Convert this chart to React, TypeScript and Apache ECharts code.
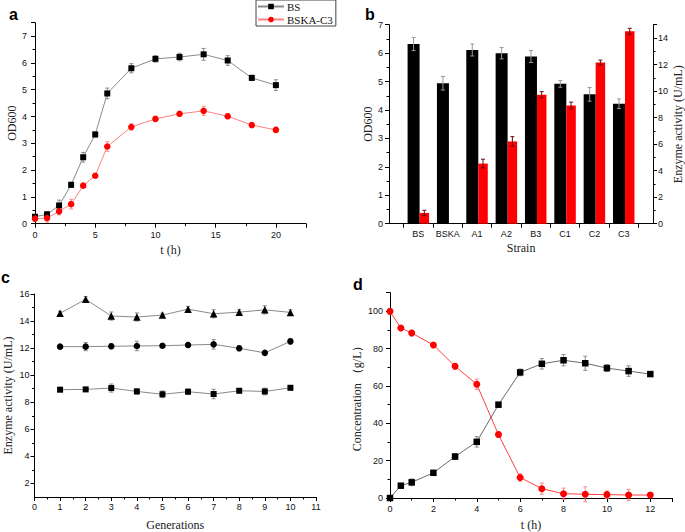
import React, { useEffect, useRef } from "react";
import * as echarts from "echarts";

// ---- Panel a: growth curves ----
const aTime = [0, 1, 2, 3, 4, 5, 6, 8, 10, 12, 14, 16, 18, 20];
const aBS = [0.26, 0.35, 0.68, 1.45, 2.48, 3.33, 4.86, 5.8, 6.15, 6.22, 6.32, 6.09, 5.44, 5.17];
const aBSErr = [0.08, 0.1, 0.2, 0.1, 0.18, 0.1, 0.2, 0.17, 0.12, 0.14, 0.22, 0.18, 0.1, 0.2];
const aC3 = [0.19, 0.21, 0.46, 0.73, 1.42, 1.79, 2.88, 3.61, 3.91, 4.1, 4.21, 4.01, 3.68, 3.5];
const aC3Err = [0.1, 0.15, 0.13, 0.18, 0.07, 0.07, 0.18, 0.12, 0.1, 0.07, 0.17, 0.1, 0.07, 0.1];

// ---- Panel b: strains ----
const bStrains = ["BS", "BSKA", "A1", "A2", "B3", "C1", "C2", "C3"];
const bOD = [6.32, 4.94, 6.11, 6.0, 5.88, 4.92, 4.55, 4.22];
const bODErr = [0.23, 0.24, 0.21, 0.2, 0.21, 0.12, 0.24, 0.17];
const bAct = [0.81, null, 4.53, 6.2, 9.72, 8.91, 12.15, 14.5];
const bActErr = [0.2, null, 0.33, 0.36, 0.23, 0.25, 0.18, 0.23];

// ---- Panel c: stability over generations ----
const cGen = [1, 2, 3, 4, 5, 6, 7, 8, 9, 10];
const cTri = [14.57, 15.61, 14.37, 14.3, 14.44, 14.88, 14.54, 14.66, 14.83, 14.64];
const cTriErr = [0.15, 0.2, 0.3, 0.3, 0.15, 0.2, 0.3, 0.2, 0.3, 0.2];
const cCirc = [12.11, 12.11, 12.14, 12.16, 12.18, 12.23, 12.28, 11.99, 11.65, 12.5];
const cCircErr = [0.15, 0.3, 0.2, 0.35, 0.15, 0.2, 0.35, 0.2, 0.1, 0.2];
const cSq = [8.93, 8.95, 9.05, 8.8, 8.59, 8.78, 8.61, 8.85, 8.8, 9.07];
const cSqErr = [0.15, 0.15, 0.3, 0.2, 0.25, 0.2, 0.35, 0.15, 0.25, 0.15];

// ---- Panel d: fermentation ----
const dTime = [0, 0.5, 1, 2, 3, 4, 5, 6, 7, 8, 9, 10, 11, 12];
const dBlack = [0, 6.6, 8.4, 13.5, 22.2, 30.1, 50, 67.3, 71.9, 73.8, 72.2, 69.6, 68, 66.4];
const dBlackErr = [0, 1, 1.8, 1, 1.5, 2.8, 1.2, 1.8, 2.8, 3, 3.8, 1.8, 2.8, 1];
const dRed = [100, 91.1, 88.4, 82, 70.6, 60.9, 34, 11, 5, 2.3, 2, 1.8, 1.6, 1.6];
const dRedErr = [0, 0.8, 1.5, 1, 1.5, 2.8, 1.5, 2, 3, 3, 4, 2, 3, 1];

const SANS = "Liberation Sans";
const SERIF = "Liberation Serif";

function errData(xs: number[], ys: (number | null)[], es: (number | null)[]) {
  const out: number[][] = [];
  xs.forEach((x, i) => {
    const y = ys[i];
    const e = es[i];
    if (y == null || e == null) return;
    out.push([x, y - e, y + e]);
  });
  return out;
}

function errRender(color: string, offset = 0, capW = 4) {
  return (params: any, api: any) => {
    const x = api.value(0);
    const lo = api.value(1);
    const hi = api.value(2);
    const p1 = api.coord([x, lo]);
    const p2 = api.coord([x, hi]);
    const cx = p1[0] + offset;
    const st = { stroke: color, lineWidth: 1 };
    return {
      type: "group",
      children: [
        { type: "line", shape: { x1: cx, y1: p1[1], x2: cx, y2: p2[1] }, style: st },
        { type: "line", shape: { x1: cx - capW / 2, y1: p2[1], x2: cx + capW / 2, y2: p2[1] }, style: st },
        { type: "line", shape: { x1: cx - capW / 2, y1: p1[1], x2: cx + capW / 2, y2: p1[1] }, style: st },
      ],
    };
  };
}

function axis(extra: any) {
  const base: any = {
    axisLine: { show: true, onZero: false, lineStyle: { color: "#000", width: 1 } },
    axisTick: { show: true, length: 4, lineStyle: { color: "#000", width: 1 } },
    minorTick: { show: true, splitNumber: 2, length: 2.5, lineStyle: { color: "#000", width: 1 } },
    splitLine: { show: false },
    axisLabel: { color: "#111", fontFamily: SANS, fontSize: 9, margin: 6 },
    nameLocation: "middle",
    nameTextStyle: { fontFamily: SERIF, fontSize: 12, color: "#222" },
  };
  const out: any = { ...base, ...extra };
  for (const k of ["axisLine", "axisTick", "minorTick", "axisLabel", "nameTextStyle"]) {
    if (extra[k]) out[k] = { ...base[k], ...extra[k] };
  }
  return out;
}

const zip = (xs: number[], ys: (number | null)[]) =>
  xs.map((x, i) => [x, ys[i]]).filter((p) => p[1] != null);

export default function App() {
  const ref = useRef<HTMLDivElement>(null);
  useEffect(() => {
    if (!ref.current) return;
    const chart = echarts.init(ref.current, undefined, { renderer: "svg" });
    const grayLine = "#8a8a8a";
    const option: any = {
      animation: false,
      backgroundColor: "#fff",
      textStyle: { fontFamily: SANS },
      title: [
        { text: "a", left: 9, top: 6, textStyle: { fontFamily: SANS, fontWeight: "bold", fontSize: 16, color: "#000" }, padding: 0 },
        { text: "b", left: 365, top: 6, textStyle: { fontFamily: SANS, fontWeight: "bold", fontSize: 16, color: "#000" }, padding: 0 },
        { text: "c", left: 1, top: 269, textStyle: { fontFamily: SANS, fontWeight: "bold", fontSize: 16, color: "#000" }, padding: 0 },
        { text: "d", left: 353, top: 276, textStyle: { fontFamily: SANS, fontWeight: "bold", fontSize: 16, color: "#000" }, padding: 0 },
      ],
      legend: {
        data: ["BS", "BSKA-C3"],
        orient: "vertical",
        left: 256,
        top: 0,
        padding: [1, 3, 1, 1],
        itemGap: 2,
        itemWidth: 26,
        itemHeight: 7,
        borderColor: "#444",
        borderWidth: 1,
        textStyle: { fontFamily: SERIF, fontSize: 11, color: "#111", padding: [0, 0, 0, -2] },
      },
      grid: [
        { left: 35, top: 22.7, width: 271, height: 201 },
        { left: 389, top: 24.7, width: 267, height: 199 },
        { left: 34.5, top: 294, width: 281.5, height: 205.3 },
        { left: 390, top: 292.7, width: 282, height: 206.3 },
      ],
      xAxis: [
        axis({
          type: "value", gridIndex: 0, min: 0, max: 22.5, interval: 5,
          name: "t (h)", nameGap: 20,
          axisLabel: { margin: 7, formatter: (v: number) => (v % 5 === 0 ? String(v) : "") },
        }),
        axis({
          type: "value", gridIndex: 1, min: 0, max: 9,
          name: "Strain", nameGap: 18,
          minorTick: { show: false },
          axisTick: { customValues: [0.5, 1.5, 2.5, 3.5, 4.5, 5.5, 6.5, 7.5, 8.5] },
          axisLabel: {
            margin: 6,
            customValues: [1, 2, 3, 4, 5, 6, 7, 8],
            formatter: (v: number) => bStrains[Math.round(v) - 1] || "",
          },
        }),
        axis({
          type: "value", gridIndex: 2, min: 0, max: 11, interval: 1,
          name: "Generations", nameGap: 22, axisLabel: { margin: 5 },
        }),
        axis({
          type: "value", gridIndex: 3, min: 0, max: 13, interval: 2,
          name: "t (h)", nameGap: 21,
          axisLabel: { margin: 6, formatter: (v: number) => (v % 2 === 0 ? String(v) : "") },
        }),
      ],
      yAxis: [
        axis({
          type: "value", gridIndex: 0, min: 0, max: 7.5, interval: 1,
          name: "OD600", nameGap: 16,
          axisLabel: { margin: 8, formatter: (v: number) => (v % 1 === 0 ? String(v) : "") },
        }),
        axis({
          type: "value", gridIndex: 1, min: 0, max: 7, interval: 1,
          name: "OD600", nameGap: 12, axisLabel: { margin: 6 },
        }),
        axis({
          type: "value", gridIndex: 1, min: 0, max: 15, interval: 2, position: "right",
          name: "Enzyme activity (U/mL)", nameGap: 17, nameRotate: 90,
          axisLabel: { margin: 5, formatter: (v: number) => (v % 2 === 0 ? String(v) : "") },
        }),
        axis({
          type: "value", gridIndex: 2, min: 1, max: 16,
          name: "Enzyme activity (U/mL)", nameGap: 21,
          minorTick: { show: false },
          axisTick: { customValues: [2, 4, 6, 8, 10, 12, 14, 16] },
          axisLabel: { margin: 5, customValues: [2, 4, 6, 8, 10, 12, 14, 16] },
        }),
        axis({
          type: "value", gridIndex: 2, min: 1, max: 16, position: "left",
          axisLine: { show: false },
          minorTick: { show: false },
          axisTick: { length: 2.5, customValues: [3, 5, 7, 9, 11, 13, 15] },
          axisLabel: { show: false },
        }),
        axis({
          type: "value", gridIndex: 3, min: 0, max: 110, interval: 20,
          name: "Concentration （g/L）", nameGap: 27,
          axisLabel: { margin: 7, formatter: (v: number) => (v % 20 === 0 ? String(v) : "") },
        }),
      ],
      series: [
        // ---- a ----
        {
          type: "custom", name: "errBS", xAxisIndex: 0, yAxisIndex: 0, z: 1,
          renderItem: errRender("#8a8a8a"), encode: { x: 0, y: [1, 2] },
          data: errData(aTime, aBS, aBSErr),
        },
        {
          type: "custom", name: "errC3", xAxisIndex: 0, yAxisIndex: 0, z: 1,
          renderItem: errRender("#ff8a8a"), encode: { x: 0, y: [1, 2] },
          data: errData(aTime, aC3, aC3Err),
        },
        {
          type: "line", name: "BS", xAxisIndex: 0, yAxisIndex: 0, z: 3,
          data: zip(aTime, aBS), symbol: "rect", symbolSize: 6,
          itemStyle: { color: "#000" }, lineStyle: { color: grayLine, width: 1 },
        },
        {
          type: "line", name: "BSKA-C3", xAxisIndex: 0, yAxisIndex: 0, z: 3,
          data: zip(aTime, aC3), symbol: "circle", symbolSize: 6.5,
          itemStyle: { color: "#ff0000" }, lineStyle: { color: "#ff8080", width: 1 },
        },
        // ---- b ----
        {
          type: "bar", name: "OD", xAxisIndex: 1, yAxisIndex: 1, z: 2,
          data: zip([1, 2, 3, 4, 5, 6, 7, 8], bOD), barWidth: 12, barGap: "0%",
          itemStyle: { color: "#000" },
        },
        {
          type: "bar", name: "Activity", xAxisIndex: 1, yAxisIndex: 2, z: 2,
          data: zip([1, 2, 3, 4, 5, 6, 7, 8], bAct), barWidth: 9.5, barGap: "0%",
          itemStyle: { color: "#ff0000" },
        },
        {
          type: "custom", name: "errOD", xAxisIndex: 1, yAxisIndex: 1, z: 4,
          renderItem: errRender("#999999", -4.75, 4), encode: { x: 0, y: [1, 2] },
          data: errData([1, 2, 3, 4, 5, 6, 7, 8], bOD, bODErr),
        },
        {
          type: "custom", name: "errAct", xAxisIndex: 1, yAxisIndex: 2, z: 4,
          renderItem: errRender("#5a1010", 6, 4), encode: { x: 0, y: [1, 2] },
          data: errData([1, 2, 3, 4, 5, 6, 7, 8], bAct, bActErr),
        },
        // ---- c ----
        {
          type: "custom", name: "errTri", xAxisIndex: 2, yAxisIndex: 3, z: 1,
          renderItem: errRender("#8a8a8a"), encode: { x: 0, y: [1, 2] },
          data: errData(cGen, cTri, cTriErr),
        },
        {
          type: "custom", name: "errCirc", xAxisIndex: 2, yAxisIndex: 3, z: 1,
          renderItem: errRender("#8a8a8a"), encode: { x: 0, y: [1, 2] },
          data: errData(cGen, cCirc, cCircErr),
        },
        {
          type: "custom", name: "errSq", xAxisIndex: 2, yAxisIndex: 3, z: 1,
          renderItem: errRender("#8a8a8a"), encode: { x: 0, y: [1, 2] },
          data: errData(cGen, cSq, cSqErr),
        },
        {
          type: "line", name: "tri", xAxisIndex: 2, yAxisIndex: 3, z: 3,
          data: zip(cGen, cTri), symbol: "triangle", symbolSize: 7.5,
          itemStyle: { color: "#000" }, lineStyle: { color: grayLine, width: 1 },
        },
        {
          type: "line", name: "circ", xAxisIndex: 2, yAxisIndex: 3, z: 3,
          data: zip(cGen, cCirc), symbol: "circle", symbolSize: 6.5,
          itemStyle: { color: "#000" }, lineStyle: { color: grayLine, width: 1 },
        },
        {
          type: "line", name: "sq", xAxisIndex: 2, yAxisIndex: 3, z: 3,
          data: zip(cGen, cSq), symbol: "rect", symbolSize: 6,
          itemStyle: { color: "#000" }, lineStyle: { color: grayLine, width: 1 },
        },
        // ---- d ----
        {
          type: "custom", name: "errBlack", xAxisIndex: 3, yAxisIndex: 5, z: 1,
          renderItem: errRender("#8a8a8a"), encode: { x: 0, y: [1, 2] },
          data: errData(dTime, dBlack, dBlackErr),
        },
        {
          type: "custom", name: "errRed", xAxisIndex: 3, yAxisIndex: 5, z: 1,
          renderItem: errRender("#ff8a8a"), encode: { x: 0, y: [1, 2] },
          data: errData(dTime, dRed, dRedErr),
        },
        {
          type: "line", name: "product", xAxisIndex: 3, yAxisIndex: 5, z: 3,
          data: zip(dTime, dBlack), symbol: "rect", symbolSize: 6.5,
          itemStyle: { color: "#000" }, lineStyle: { color: "#6a6a6a", width: 1 },
        },
        {
          type: "line", name: "substrate", xAxisIndex: 3, yAxisIndex: 5, z: 3,
          data: zip(dTime, dRed), symbol: "circle", symbolSize: 7,
          itemStyle: { color: "#ff0000" }, lineStyle: { color: "#ff4040", width: 1 },
        },
      ],
    };
    chart.setOption(option);
    return () => chart.dispose();
  }, []);
  return (
    <div
      ref={ref}
      style={{ position: "fixed", left: 0, top: 0, width: 685, height: 532, background: "#fff" }}
    />
  );
}
